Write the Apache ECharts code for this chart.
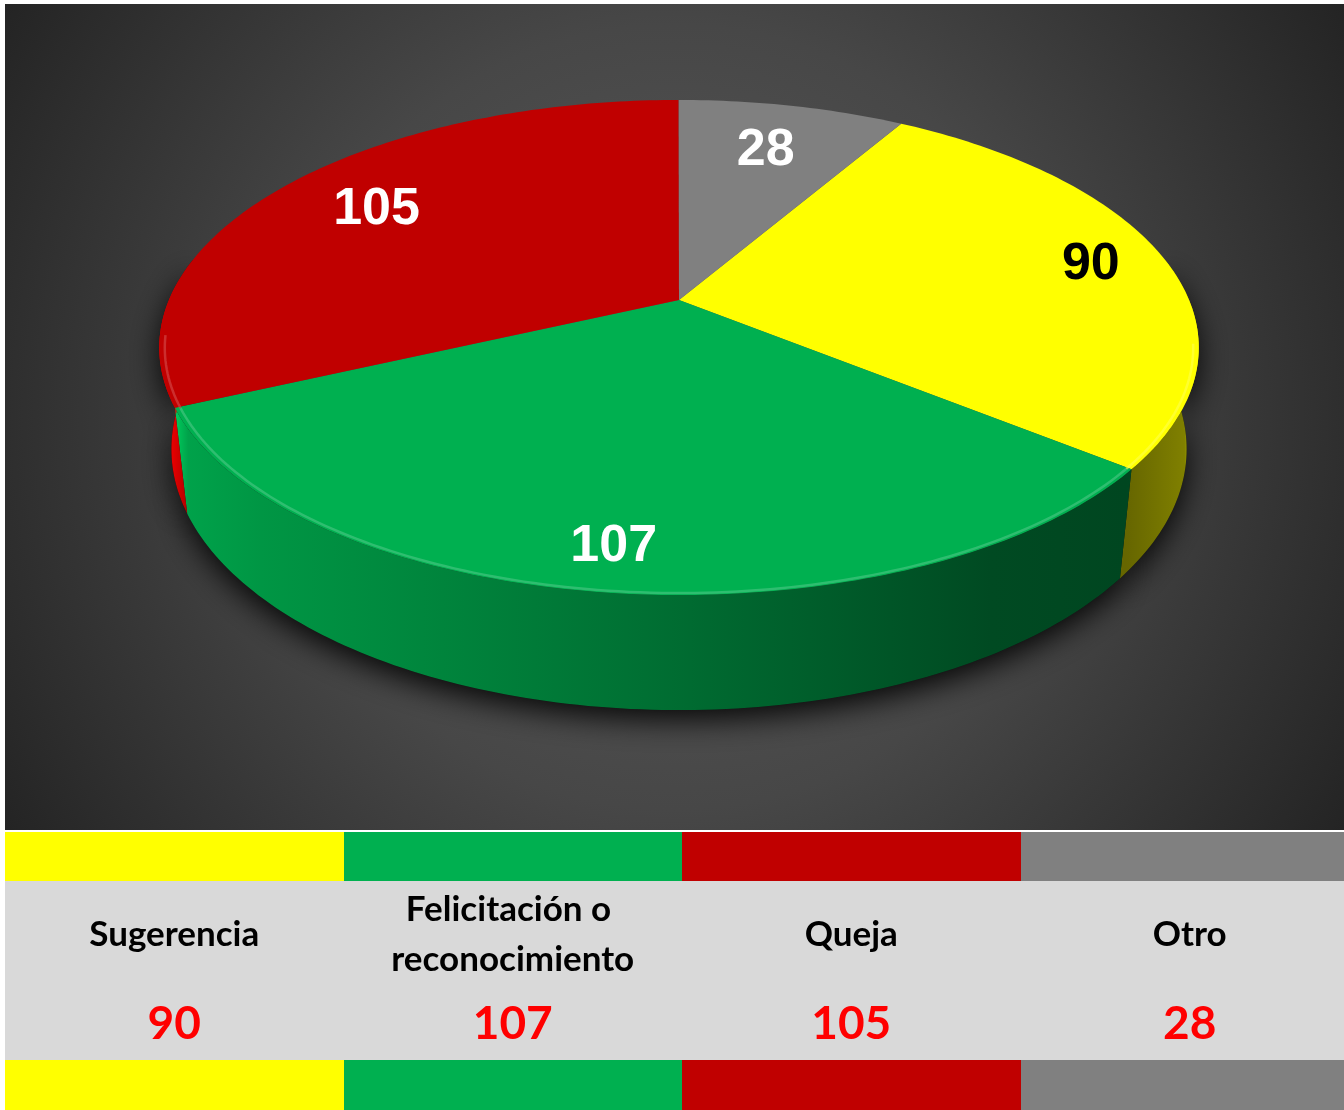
<!DOCTYPE html>
<html>
<head>
<meta charset="utf-8">
<style>
html, body { margin: 0; padding: 0; background: #fff; }
#main { width: 1344px; height: 1110px; }
</style>
<script src="https://cdn.jsdelivr.net/npm/echarts@6/dist/echarts.min.js"></script>
</head>
<body>
<div id="main"></div>
<script>
var categories = ['Sugerencia', 'Felicitación o reconocimiento', 'Queja', 'Otro'];
var values = [90, 107, 105, 28];
var colors = ['#FFFF00', '#00B050', '#C00000', '#808080'];
var labelColors = ['#000000', '#ffffff', '#ffffff', '#ffffff'];
var labelRadius = [0.845, 0.87, 0.76, 0.735];

var firstSliceAngle = 30.5;   // grados, desde las 12 en sentido horario
// camara para el pastel "3d"
var P = { cx: 679, cy: 300, f: 2349, D: 4.605, s: 0.4675, c: 0.884, H: 0.227 };

var total = 0;
values.forEach(function (v) { total += v; });
var starts = [];
var acc = firstSliceAngle;
values.forEach(function (v) { starts.push(acc); acc += v / total * 360; });

function proj(r, deg, h) {
    var t = deg * Math.PI / 180;
    var X = r * Math.sin(t), Z = -r * Math.cos(t);
    var yv = Z * P.s + h * P.c;
    var d = P.D - Z * P.c + h * P.s;
    return [P.cx + P.f * X / d, P.cy + P.f * yv / d];
}

function arc(r, a, b, h) {
    var pts = [];
    var n = Math.max(2, Math.ceil(Math.abs(b - a)));
    for (var k = 0; k <= n; k++) pts.push(proj(r, a + (b - a) * k / n, h));
    return pts;
}

function rgb(hex) {
    return [parseInt(hex.substr(1, 2), 16), parseInt(hex.substr(3, 2), 16), parseInt(hex.substr(5, 2), 16)];
}
function shade(hex, k) {
    var c = rgb(hex).map(function (v) { return Math.max(0, Math.min(255, Math.round(v * k))); });
    return 'rgb(' + c.join(',') + ')';
}
function lighten(hex, t) {
    var c = rgb(hex).map(function (v) { return Math.round(v + (255 - v) * t); });
    return 'rgb(' + c.join(',') + ')';
}

// luz de la pared lateral, de izquierda a derecha
var sideShade = [[0, 1.3], [0.015, 1.2], [0.03, 0.92], [0.1, 0.85], [0.45, 0.65], [0.8, 0.42], [0.93, 0.4], [0.985, 0.5], [1, 0.95]];

var chart = echarts.init(document.getElementById('main'));

var option = {
    backgroundColor: '#ffffff',
    animation: false,
    graphic: [{
        type: 'rect',
        left: 5, top: 4,
        shape: { width: 1339, height: 826 },
        style: {
            fill: new echarts.graphic.RadialGradient(0.5, 0.5, 0.95, [
                { offset: 0, color: '#5a5a5a' },
                { offset: 0.5, color: '#474747' },
                { offset: 1, color: '#242424' }
            ])
        },
        z: -10, silent: true
    }],
    grid: { left: 5, top: 832, width: 1354, height: 278, outerBoundsMode: 'none' },
    xAxis: { type: 'category', data: categories, show: false },
    yAxis: { type: 'value', min: 0, max: 1, show: false },
    series: [
        {
            type: 'custom',
            coordinateSystem: 'none',
            silent: true,
            data: values,
            renderItem: function (params, api) {
                var i = params.dataIndex;
                var a = starts[i];
                var b = a + api.value(0) / total * 360;
                var col = colors[i];
                var children = [];

                // pared lateral (solo la parte de delante)
                var sa = Math.max(a, 80), sb = Math.min(b, 280);
                if (sb > sa) {
                    var band = arc(1, sa, sb, 0).concat(arc(1, sb, sa, P.H));
                    children.push({
                        type: 'polygon', z2: -1,
                        shape: { points: band },
                        style: {
                            fill: '#111', shadowBlur: 30, shadowOffsetY: 10,
                            shadowColor: 'rgba(0,0,0,0.9)'
                        }
                    });
                    children.push({
                        type: 'polygon', z2: 0,
                        shape: { points: band },
                        style: {
                            fill: new echarts.graphic.LinearGradient(157, 0, 1200, 0,
                                sideShade.map(function (s) { return { offset: s[0], color: shade(col, s[1]) }; }), true)
                        }
                    });
                }

                // cara superior
                children.push({
                    type: 'polygon', z2: 10,
                    shape: { points: [[P.cx, P.cy]].concat(arc(1, a, b, 0)) },
                    style: { fill: col }
                });

                // brillo del borde
                var ha = Math.max(a, 100), hb = Math.min(b, 262);
                if (hb > ha) {
                    children.push({
                        type: 'polyline', z2: 12,
                        shape: { points: arc(0.99, ha, hb, 0.003) },
                        style: { fill: null, stroke: lighten(col, 0.3), lineWidth: 2.5, opacity: 0.6 }
                    });
                }

                var lp = proj(labelRadius[i], (a + b) / 2, 0);
                children.push({
                    type: 'text', z2: 20,
                    style: {
                        text: String(api.value(0)),
                        x: lp[0], y: lp[1],
                        align: 'center', verticalAlign: 'middle',
                        font: 'bold 52px "Liberation Sans", Arial, sans-serif',
                        fill: labelColors[i]
                    }
                });
                return { type: 'group', children: children };
            }
        },
        {
            type: 'custom',
            silent: true,
            data: values.map(function (v, i) { return [i, v]; }),
            renderItem: function (params, api) {
                var i = params.dataIndex;
                var cx = api.coord([i, 0])[0];
                var w = api.size([1, 0])[0];
                var cs = params.coordSys;
                var x0 = Math.round(cx - w / 2);
                var ww = Math.round(w) + 1;
                var top = cs.y, bottom = cs.y + cs.height;
                return {
                    type: 'group',
                    children: [
                        { type: 'rect', shape: { x: x0, y: top, width: ww, height: 49 }, style: { fill: colors[i] } },
                        { type: 'rect', shape: { x: x0, y: top + 49, width: ww, height: 179 }, style: { fill: '#D9D9D9' } },
                        { type: 'rect', shape: { x: x0, y: top + 228, width: ww, height: bottom - top - 228 }, style: { fill: colors[i] } },
                        {
                            type: 'text', z2: 5,
                            style: {
                                text: categories[i], x: cx, y: top + 103,
                                align: 'center', verticalAlign: 'middle',
                                width: 310, overflow: 'break', lineHeight: 50,
                                font: 'bold 35px Lato, "Open Sans", sans-serif', fill: '#000'
                            }
                        },
                        {
                            type: 'text', z2: 5,
                            style: {
                                text: String(api.value(1)), x: cx, y: top + 192,
                                align: 'center', verticalAlign: 'middle',
                                font: 'bold 46px Lato, "Open Sans", sans-serif', fill: '#FF0000'
                            }
                        }
                    ]
                };
            }
        }
    ]
};

chart.setOption(option);
</script>
</body>
</html>
